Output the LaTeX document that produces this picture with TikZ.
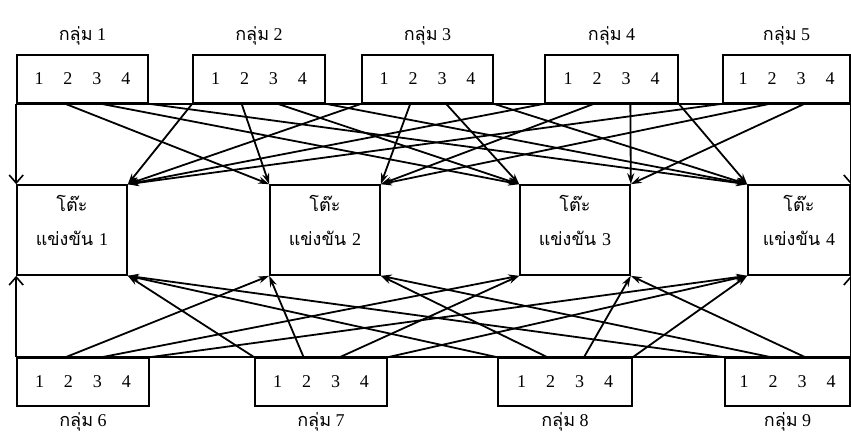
\documentclass[tikz,border=0pt]{standalone}
\usepackage{fontspec}
\setmainfont{Liberation Serif}
\newfontfamily\thai[Script=Thai]{Loma}
\usetikzlibrary{arrows.meta, positioning, calc}

\newcommand{\members}{1\hspace{20pt}2\hspace{20pt}3\hspace{20pt}4}

\begin{document}
\begin{tikzpicture}[
    x=1pt, y=-1pt,
    grp/.style={draw, line width=1.6pt, minimum width=#1, minimum height=48pt, inner sep=0pt, font=\fontsize{18}{20}\selectfont},
    grp/.default=132pt,
    desk/.style={draw, line width=1.6pt, minimum width=#1, minimum height=90pt, inner sep=0pt, align=center, text depth=19pt, font=\thai\fontsize{18}{34}\selectfont},
    desk/.default=110pt,
    title/.style={font=\fontsize{18}{20}\selectfont, inner sep=0pt},
    arrow/.style={-{Stealth[length=11pt,width=7pt]}, line width=1.8pt},
    varrow/.style={-{Straight Barb[length=8pt,width=14pt, line width=1.6pt]}, line width=1.8pt}
]
    \useasboundingbox (0,0) rectangle (851,434);

    % groups on top
    \node[grp=131pt] (g1) at (82.5,79) {\members};
    \node[grp] (g2) at (259,79) {\members};
    \node[grp=131pt] (g3) at (427.5,79) {\members};
    \node[grp=133pt] (g4) at (611.5,79) {\members};
    \node[grp=127pt] (g5) at (786.5,79) {\members};
    \foreach \g in {1,...,5}
        \node[title, above=9pt of g\g] (l\g) {{\thai กลุ่ม} \g};

    % competition tables
    \node[desk] (t1) at (72,230) {โต๊ะ\\แข่งขัน {\rmfamily 1}};
    \node[desk] (t2) at (325,230) {โต๊ะ\\แข่งขัน {\rmfamily 2}};
    \node[desk] (t3) at (575,230) {โต๊ะ\\แข่งขัน {\rmfamily 3}};
    \node[desk=102pt] (t4) at (799,230) {โต๊ะ\\แข่งขัน {\rmfamily 4}};

    % groups at the bottom
    \node[grp] (g6) at (83,382) {\members};
    \node[grp] (g7) at (321,382) {\members};
    \node[grp=134pt] (g8) at (565,382) {\members};
    \node[grp=125pt] (g9) at (787.5,382) {\members};
    \foreach \g in {6,...,9}
        \node[title, below=6pt of g\g] (l\g) {{\thai กลุ่ม} \g};

    % where the members leave their group
    \foreach \g in {1,...,5} {
        \coordinate (g\g-1) at (g\g.south west);
        \coordinate (g\g-2) at ($(g\g.south west)!0.37!(g\g.south east)$);
        \coordinate (g\g-3) at ($(g\g.south west)!0.64!(g\g.south east)$);
        \coordinate (g\g-4) at (g\g.south east);
    }
    \foreach \g in {6,...,9} {
        \coordinate (g\g-1) at (g\g.north west);
        \coordinate (g\g-2) at ($(g\g.north west)!0.37!(g\g.north east)$);
        \coordinate (g\g-3) at ($(g\g.north west)!0.64!(g\g.north east)$);
        \coordinate (g\g-4) at (g\g.north east);
    }

    \draw[line width=1.6pt] (g1.south west) -- (g5.south east);
    \draw[line width=1.6pt] (g6.north west) -- (g9.north east);

    \draw[varrow] (g1-1) -- (t1.north west);
    \draw[varrow] (g5-4) -- (t4.north east);
    \draw[varrow] (g6-1) -- (t1.south west);
    \draw[varrow] (g9-4) -- (t4.south east);

    % member j of every group goes to table j
    \foreach \s/\e in {g2-1/t1.north east, g3-1/t1.north east, g4-1/t1.north east, g5-1/t1.north east,
        g1-2/t2.north west, g2-2/t2.north west, g3-2/t2.north east, g4-2/t2.north east, g5-2/t2.north east,
        g1-3/t3.north west, g2-3/t3.north west, g3-3/t3.north west, g4-3/t3.north east, g5-3/t3.north east,
        g1-4/t4.north west, g2-4/t4.north west, g3-4/t4.north west, g4-4/t4.north west}
        \draw[arrow] (\s) -- (\e);
    \foreach \s/\e in {g7-1/t1.south east, g8-1/t1.south east, g9-1/t1.south east,
        g6-2/t2.south west, g7-2/t2.south west, g8-2/t2.south east, g9-2/t2.south east,
        g6-3/t3.south west, g7-3/t3.south west, g8-3/t3.south east, g9-3/t3.south east,
        g6-4/t4.south west, g7-4/t4.south west, g8-4/t4.south west}
        \draw[arrow] (\s) -- (\e);
\end{tikzpicture}
\end{document}
